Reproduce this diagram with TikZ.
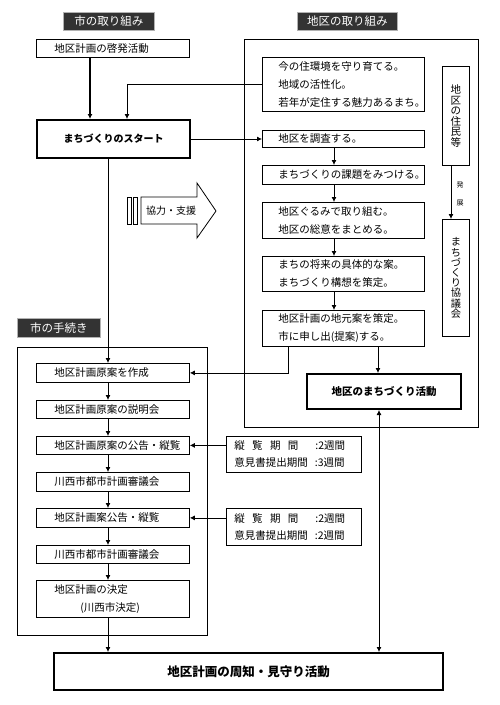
\documentclass[tikz,border=0pt]{standalone}
\usepackage{fontspec}
\setmainfont{Noto Sans CJK JP}
\usetikzlibrary{arrows.meta}
\begin{document}
\begin{tikzpicture}[x=1pt,y=-1pt,
 fn/.style={font=\fontsize{10.5}{18}\selectfont},
 tb/.style={draw, line width=0.8pt, anchor=north west, align=left, inner ysep=0pt, fn},
 lbox/.style={tb, inner xsep=18pt, text width=117pt},
 rbox/.style={tb, inner xsep=16pt, text width=130pt},
 pbox/.style={tb, inner xsep=8pt, text width=119pt, minimum height=36pt, font=\fontsize{10.5}{17}\selectfont},
 thk/.style={draw, line width=2pt, anchor=north west, inner sep=0pt, align=center},
 hdr/.style={draw=gray!60, line width=0.8pt, fill=black!80, text=white, anchor=north west, inner sep=0pt, font=\fontsize{11.5}{12}\selectfont},
 frm/.style={draw, line width=0.8pt, anchor=north west, inner sep=0pt},
 vb/.style={draw, line width=0.8pt, anchor=north west, inner sep=0pt, align=center, minimum width=27pt},
 arr/.style={line width=0.8pt, -{Latex[length=5pt,width=5pt]}},
 ln/.style={line width=0.8pt},
]
\useasboundingbox (0,0) rectangle (500,705);
\fill[white] (0,0) rectangle (500,705);

% frames
\node[frm, minimum width=234pt, minimum height=388pt] (R) at (244,39) {};
\node[frm, minimum width=190pt, minimum height=288pt] (L) at (17,347) {};

% headers
\node[hdr, minimum width=91pt, minimum height=18pt] (h1) at (63,12) {市の取り組み};
\node[hdr, minimum width=100pt, minimum height=18pt] (h2) at (297,12) {地区の取り組み};
\node[hdr, minimum width=83pt, minimum height=19pt] (h3) at (17,318) {市の手続き};

% city side top
\node[lbox, minimum height=18pt] (keihatsu) at (36,39) {地区計画の啓発活動};
\node[thk, minimum width=153pt, minimum height=38pt, font=\fontsize{10}{12}\selectfont\bfseries] (start) at (36,119) {まちづくりのスタート};

% district side
\node[rbox, minimum height=54pt] (ima) at (262,57) {今の住環境を守り育てる。\\地域の活性化。\\若年が定住する魅力あるまち。};
\node[rbox, minimum height=17pt] (chosa) at (262,130) {地区を調査する。};
\node[rbox, minimum height=19pt] (kadai) at (262,165) {まちづくりの課題をみつける。};
\node[rbox, minimum height=36pt] (gurumi) at (262,202) {地区ぐるみで取り組む。\\地区の総意をまとめる。};
\node[rbox, minimum height=35pt] (shorai) at (262,256) {まちの将来の具体的な案。\\まちづくり構想を策定。};
\node[rbox, minimum height=36pt] (jimoto) at (262,310) {地区計画の地元案を策定。\\市に申し出(提案)する。};
\node[thk, minimum width=154pt, minimum height=35pt, font=\fontsize{10.5}{12}\selectfont\bfseries] (katsudo) at (306,373) {地区のまちづくり活動};

\node[vb, minimum height=99pt, font=\fontsize{10.5}{10.5}\selectfont] (jumin) at (442,66) {地\\区\\の\\住\\民\\等};
\node[vb, minimum height=117pt, font=\fontsize{10.2}{10.2}\selectfont] (kyogi) at (442,219) {ま\\ち\\づ\\く\\り\\協\\議\\会};
\node[font=\fontsize{7}{7}\selectfont, inner sep=0pt] (hatsu) at (460,185) {発};
\node[font=\fontsize{7}{7}\selectfont, inner sep=0pt] (ten) at (460,203) {展};

% city procedures
\node[lbox, minimum height=19pt] (sakusei) at (36,363) {地区計画原案を作成};
\node[lbox, minimum height=18pt] (setsumei) at (36,400) {地区計画原案の説明会};
\node[lbox, minimum height=18pt] (koukoku) at (36,436) {地区計画原案の公告・縦覧};
\node[lbox, minimum height=19pt] (shingi1) at (36,472) {川西市都市計画審議会};
\node[lbox, minimum height=19pt] (an) at (36,508) {地区計画案公告・縦覧};
\node[lbox, minimum height=18pt] (shingi2) at (36,545) {川西市都市計画審議会};
\node[lbox, minimum height=37pt] (kettei) at (36,580) {地区計画の決定\\\hspace*{26pt}(川西市決定)};

\node[pbox] (p1) at (226,436) {\makebox[64pt][s]{縦\hfill 覧\hfill 期\hfill 間}\hspace{17pt}:2週間\\意見書提出期間\hspace{7pt}:3週間};
\node[pbox, minimum height=37pt] (p2) at (226,508) {\makebox[64pt][s]{縦\hfill 覧\hfill 期\hfill 間}\hspace{17pt}:2週間\\意見書提出期間\hspace{7pt}:2週間};

\node[thk, minimum width=389pt, minimum height=37pt, font=\fontsize{12.5}{14}\selectfont\bfseries] (bottom) at (53,652) {地区計画の周知・見守り活動};

% support arrow
\draw[ln] (141,197) -- (197,197) -- (197,183) -- (216,211) -- (197,238) -- (197,224) -- (141,224) -- cycle;
\draw[ln] (127,197) rectangle (131.5,224);
\draw[ln] (133,197) rectangle (137.5,224);
\node[font=\fontsize{10}{12}\selectfont, inner sep=0pt] (kyoryoku) at (171,211) {協力・支援};

% connectors
\draw[arr, line width=1.2pt] ([xshift=54pt]keihatsu.south west) -- ([xshift=54pt]start.north west);
\draw[arr] (ima.west) -| ([xshift=91pt]start.north west);
\draw[arr] (start.east) -- (start.east -| chosa.west);
\draw[arr] ([xshift=72pt]chosa.south west) -- ([xshift=72pt]kadai.north west);
\draw[arr] ([xshift=72pt]kadai.south west) -- ([xshift=72pt]gurumi.north west);
\draw[arr] ([xshift=72pt]gurumi.south west) -- ([xshift=72pt]shorai.north west);
\draw[arr] ([xshift=72pt]shorai.south west) -- ([xshift=72pt]jimoto.north west);
\draw[arr] ([xshift=116pt]jimoto.south west) -- ([xshift=72pt]katsudo.north west);
\draw[arr] ([xshift=26pt]jimoto.south west) |- (sakusei.east);
\draw[arr] ([xshift=9pt]jumin.south west) -- ([xshift=9pt]kyogi.north west);

\draw[arr] ([xshift=72pt]start.south west) -- ([xshift=72pt]sakusei.north west);
\draw[arr] ([xshift=72pt]sakusei.south west) -- ([xshift=72pt]setsumei.north west);
\draw[arr] ([xshift=72pt]setsumei.south west) -- ([xshift=72pt]koukoku.north west);
\draw[arr] ([xshift=72pt]koukoku.south west) -- ([xshift=72pt]shingi1.north west);
\draw[arr] ([xshift=72pt]shingi1.south west) -- ([xshift=72pt]an.north west);
\draw[arr] ([xshift=72pt]an.south west) -- ([xshift=72pt]shingi2.north west);
\draw[arr] ([xshift=72pt]shingi2.south west) -- ([xshift=72pt]kettei.north west);
\draw[arr] ([xshift=72pt]kettei.south west) -- ([xshift=55pt]bottom.north west);

\draw[arr] (koukoku.east -| p1.west) -- (koukoku.east);
\draw[arr] (an.east -| p2.west) -- (an.east);
\draw[line width=0.8pt, {Latex[length=5pt,width=5pt]}-{Latex[length=5pt,width=5pt]}] ([xshift=73pt]katsudo.south west) -- ([xshift=326pt]bottom.north west);
\end{tikzpicture}
\end{document}
